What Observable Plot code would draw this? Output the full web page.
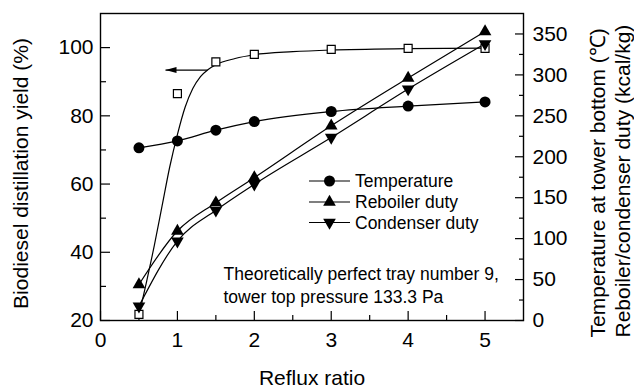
<!DOCTYPE html>
<html><head><meta charset="utf-8">
<script src="https://cdn.jsdelivr.net/npm/d3@7"></script>
<script src="https://cdn.jsdelivr.net/npm/@observablehq/plot@0.6"></script>
<style>body{margin:0;background:#fff} #chart svg{display:block}</style>
</head><body><div id="chart"></div>
<script>
// ---- data ----
const refluxRatio = [0.5, 1, 1.5, 2, 3, 4, 5];
const yieldPct    = [21.8, 86.5, 95.8, 98.0, 99.5, 99.8, 99.8];       // left axis (%)
const temperature = [210.9, 219.4, 232.5, 243.0, 255.3, 261.9, 267.0]; // right axis (℃)
const reboilerDuty  = [44, 109.3, 143.9, 174.5, 237.8, 296.2, 353];    // right axis (kcal/kg)
const condenserDuty = [17.5, 97, 134.6, 166.4, 223.5, 282.7, 338];     // right axis (kcal/kg)

// fitted yield curve as drawn in the reference
const yieldFitX = [0.5, 0.6, 0.7, 0.8, 0.9, 1.0, 1.1, 1.2, 1.3, 1.4, 1.5, 1.75, 2, 2.5, 3, 4, 5];
const yieldFitY = [21.5, 31.5, 42, 53.5, 65, 74.5, 82.5, 88, 91.5, 93.6, 95, 96.8, 97.9, 98.8, 99.3, 99.7, 99.85];

// arrow pointing to the left axis
const arrowFrom = [1.39, 93.4];
const arrowTo   = [0.845, 93.4];

const xTicks = [0, 1, 2, 3, 4, 5];
const xMinor = [0.5, 1.5, 2.5, 3.5, 4.5];
const leftTicks = [20, 40, 60, 80, 100];
const leftMinor = [30, 50, 70, 90];
const rightTicks = [0, 50, 100, 150, 200, 250, 300, 350];
const rightMinor = [25, 75, 125, 175, 225, 275, 325];

const seriesNames = ["Temperature", "Reboiler duty", "Condenser duty"];
const xTitle = "Reflux ratio";
const leftTitle = "Biodiesel distillation yield (%)";
const rightTitle = "Temperature at tower bottom (℃)\nReboiler/condenser duty (kcal/kg)";
const note = "Theoretically perfect tray number 9,\ntower top pressure 133.3 Pa";

// ---- helpers ----
const leftDomain = [20, 110];
const rightDomain = [0, 375];
const toLeft = v => leftDomain[0] + (v - rightDomain[0]) * (leftDomain[1] - leftDomain[0]) / (rightDomain[1] - rightDomain[0]);

const pts = ys => refluxRatio.map((x, i) => ({x, y: ys[i]}));
const yieldData = pts(yieldPct);
const tempData = pts(temperature.map(toLeft));
const rebData = pts(reboilerDuty.map(toLeft));
const conData = pts(condenserDuty.map(toLeft));
const fitData = yieldFitX.map((x, i) => ({x, y: yieldFitY[i]}));
const arrowData = [{x1: arrowFrom[0], y1: arrowFrom[1], x2: arrowTo[0], y2: arrowTo[1]}];

const arrowHead = {
  draw(ctx) { ctx.moveTo(0, 0); ctx.lineTo(11, -3); ctx.lineTo(11, 3); ctx.closePath(); }
};

const ink = "#000";
const font = "'Liberation Sans', Arial, sans-serif";
const tickFont = 21;
const titleFont = 21;
const smallFont = 17.5;

const plot = Plot.plot({
  width: 634, height: 391,
  marginLeft: 100, marginRight: 111, marginTop: 13, marginBottom: 71,
  style: {fontFamily: font, fontSize: tickFont + "px", color: ink, background: "#fff"},
  x: {domain: [0, 5.5]},
  y: {domain: leftDomain},
  marks: [
    Plot.axisX(xTicks, {tickSize: -9, tickPadding: 21, tickFormat: d => d, label: null, fontSize: tickFont, strokeWidth: 1.2}),
    Plot.axisX(xMinor, {tickSize: -5, tickFormat: null, text: null, label: null, strokeWidth: 1.2}),
    Plot.axisY(leftTicks, {tickSize: -10, tickPadding: 17, tickFormat: d => d, label: null, fontSize: tickFont, strokeWidth: 1.2}),
    Plot.axisY(leftMinor, {tickSize: -6, text: null, label: null, strokeWidth: 1.2}),
    Plot.axisY(rightTicks.map(toLeft), {anchor: "right", tickSize: -9, tickPadding: 18,
      tickFormat: (d, i) => rightTicks[i], label: null, fontSize: tickFont, strokeWidth: 1.2}),
    Plot.axisY(rightMinor.map(toLeft), {anchor: "right", tickSize: -5, text: null, label: null, strokeWidth: 1.2}),
    Plot.frame({stroke: ink, strokeWidth: 1.4}),

    Plot.line(fitData, {x: "x", y: "y", curve: "monotone-x", stroke: ink, strokeWidth: 1.2}),
    Plot.line(tempData, {x: "x", y: "y", curve: "monotone-x", stroke: ink, strokeWidth: 1.2}),
    Plot.line(rebData, {x: "x", y: "y", curve: "monotone-x", stroke: ink, strokeWidth: 1.2}),
    Plot.line(conData, {x: "x", y: "y", curve: "monotone-x", stroke: ink, strokeWidth: 1.2}),
    Plot.link(arrowData, {x1: "x1", y1: "y1", x2: "x2", y2: "y2", stroke: ink, strokeWidth: 1.2}),
    Plot.dot(arrowData, {x: "x2", y: "y2", symbol: arrowHead, r: 5, fill: ink, stroke: "none"}),

    Plot.dot(yieldData, {x: "x", y: "y", symbol: "square", r: 4.5, fill: "#fff", stroke: ink, strokeWidth: 1.2}),
    Plot.dot(tempData, {x: "x", y: "y", symbol: "circle", r: 5.5, fill: ink, stroke: "none"}),
    Plot.dot(rebData, {x: "x", y: "y", symbol: "triangle", r: 4.7, fill: ink, stroke: "none"}),
    Plot.dot(conData, {x: "x", y: "y", symbol: "triangle", r: 4.7, rotate: 180, fill: ink, stroke: "none"}),

    Plot.text([note], {frameAnchor: "bottom-left", dx: 123, dy: -36.5, textAnchor: "start", lineAnchor: "middle",
      lineHeight: 1.33, fontSize: smallFont, fill: ink}),
    Plot.text([xTitle], {frameAnchor: "bottom", dy: 58, lineAnchor: "middle", fontSize: titleFont, fill: ink}),
    Plot.text([leftTitle], {frameAnchor: "left", dx: -79, dy: 6.5, rotate: -90, textAnchor: "middle", lineAnchor: "middle", fontSize: titleFont, fill: ink}),
    Plot.text([rightTitle], {frameAnchor: "bottom-right", dx: 86, dy: 17, rotate: -90, textAnchor: "start", lineAnchor: "middle",
      lineHeight: 1.17, fontSize: titleFont, fill: ink})
  ]
});

document.getElementById("chart").appendChild(plot);

// ---- legend inside the plot ----
const svg = d3.select(plot);
const lg = svg.append("g").attr("font-family", font).attr("font-size", smallFont).attr("fill", ink).attr("text-anchor", "start");
const legendSymbols = [
  {sym: d3.symbolCircle, r: 5.5, rot: 0},
  {sym: d3.symbolTriangle, r: 4.7, rot: 0},
  {sym: d3.symbolTriangle, r: 4.7, rot: 180}
];
const legendRows = [181, 202, 222.5];
seriesNames.forEach((name, i) => {
  const y = legendRows[i];
  lg.append("line").attr("x1", 309).attr("x2", 350).attr("y1", y).attr("y2", y).attr("stroke", ink).attr("stroke-width", 1.2);
  const s = legendSymbols[i];
  lg.append("path").attr("d", d3.symbol(s.sym, Math.PI * s.r * s.r)())
    .attr("transform", `translate(329.5,${y}) rotate(${s.rot})`).attr("fill", ink);
  lg.append("text").attr("x", 355).attr("y", y).attr("dy", "0.35em").attr("text-anchor", "start").text(name);
});
</script></body></html>
